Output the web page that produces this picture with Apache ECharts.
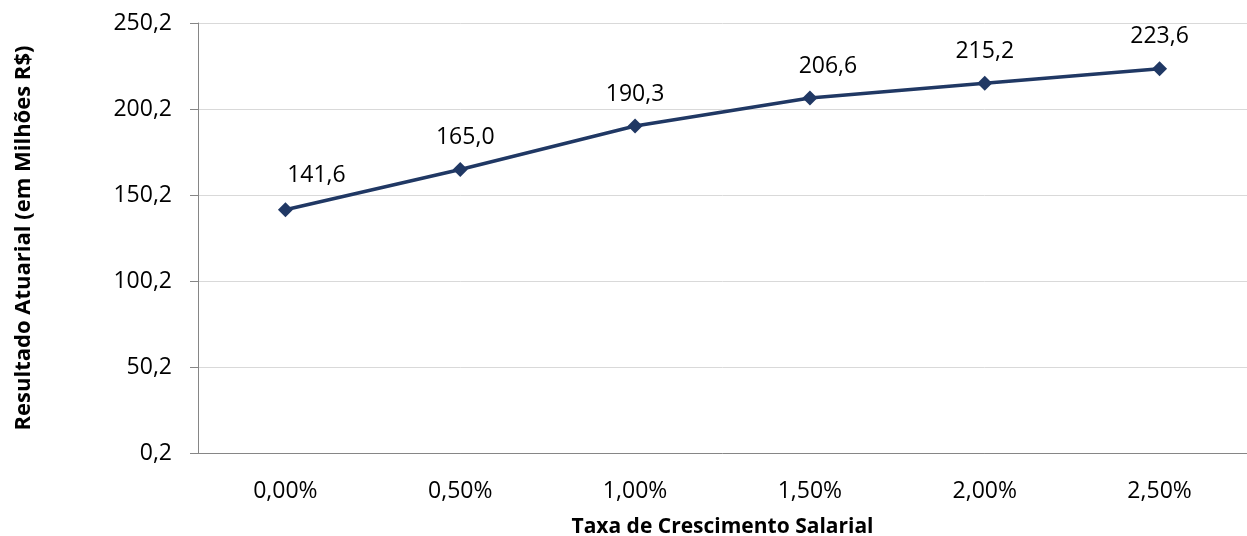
<!DOCTYPE html>
<html>
<head>
<meta charset="utf-8">
<script src="https://cdn.jsdelivr.net/npm/echarts@6/dist/echarts.min.js"></script>
<style>
  html, body { margin: 0; padding: 0; background: #fff; }
  #main { width: 1247px; height: 536px; }
</style>
</head>
<body>
<div id="main"></div>
<script>
var categories = ['0,00%', '0,50%', '1,00%', '1,50%', '2,00%', '2,50%'];
var values = [141.6, 165.0, 190.3, 206.6, 215.2, 223.6];
var yTicks = [0.2, 50.2, 100.2, 150.2, 200.2, 250.2];

var fmt = function (v) { return v.toFixed(1).replace('.', ','); };

// Excel moves a few labels sideways
var labelOffsets = [[31, -2], [5, 0], [0, 0], [18, 0], [0, 0], [0, 0]];

var myChart = echarts.init(document.getElementById('main'));
var font = 'Open Sans';

var option = {
    animation: false,
    grid: { left: 198, right: 0, top: 23, bottom: 83, outerBoundsMode: 'none', containLabel: false },
    xAxis: {
        type: 'category',
        data: categories,
        boundaryGap: true,
        name: 'Taxa de Crescimento Salarial',
        nameLocation: 'middle',
        nameGap: 64,
        nameTextStyle: { fontFamily: font, fontSize: 21, fontWeight: 'bold', color: '#000' },
        axisLine: { lineStyle: { color: '#868686', width: 1 } },
        axisTick: { alignWithLabel: false, length: 8, lineStyle: { color: '#868686' } },
        axisLabel: { fontFamily: font, fontSize: 23, color: '#000', margin: 27 }
    },
    yAxis: {
        type: 'value',
        min: yTicks[0],
        max: yTicks[yTicks.length - 1],
        interval: yTicks[1] - yTicks[0],
        name: 'Resultado Atuarial (em Milhões R$)',
        nameLocation: 'middle',
        nameGap: 163,
        nameTextStyle: { fontFamily: font, fontSize: 22, fontWeight: 'bold', color: '#000' },
        axisLine: { show: true, lineStyle: { color: '#868686', width: 1 } },
        axisTick: { show: true, length: 8, lineStyle: { color: '#868686' } },
        axisLabel: { fontFamily: font, fontSize: 23, color: '#000', margin: 26, formatter: fmt },
        splitLine: { lineStyle: { color: '#d9d9d9', width: 1 } }
    },
    series: [{
        type: 'line',
        data: values.map(function (v, i) {
            return { value: v, label: { offset: labelOffsets[i] } };
        }),
        symbol: 'diamond',
        symbolSize: 15,
        lineStyle: { color: '#203864', width: 3.5 },
        itemStyle: { color: '#203864' },
        label: {
            show: true,
            position: 'top',
            distance: 13,
            fontFamily: font,
            fontSize: 23,
            color: '#000',
            formatter: function (p) { return fmt(p.value); }
        }
    }]
};
myChart.setOption(option);
</script>
</body>
</html>
